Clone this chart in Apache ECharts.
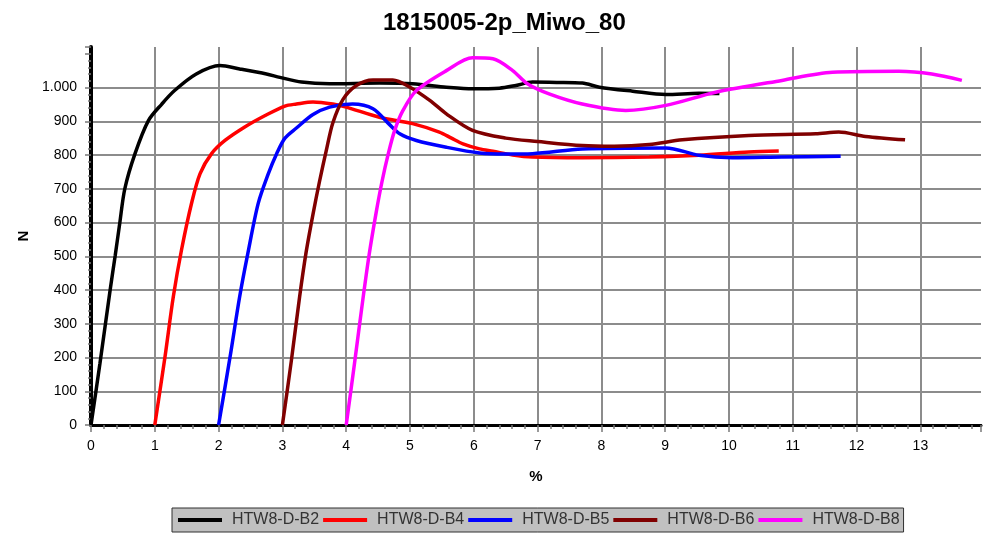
<!DOCTYPE html>
<html><head><meta charset="utf-8">
<script src="https://cdn.jsdelivr.net/npm/echarts@6/dist/echarts.min.js"></script>
<style>html,body{margin:0;padding:0;background:#fff}#c{width:984px;height:533px}</style>
</head><body><div id="c"></div>
<script>
const chartTitle = '1815005-2p_Miwo_80';
const seriesNames = ['HTW8-D-B2', 'HTW8-D-B4', 'HTW8-D-B5', 'HTW8-D-B6', 'HTW8-D-B8'];
const seriesColors = ['#000000', '#ff0000', '#0000ff', '#800000', '#ff00ff'];

const b2X = [0, 0.14, 0.30, 0.38, 0.45, 0.53, 0.69, 0.90, 1.11, 1.31, 1.65, 2.02, 2.33, 2.75, 2.96, 3.3, 3.74, 4.52, 5.04, 5.57, 5.98, 6.4, 6.66, 6.92, 7.3, 7.70, 7.97, 8.49, 9.01, 9.53, 9.85];
const b2Y = [0, 182, 400, 503, 597, 700, 804, 902, 951, 991, 1040, 1065, 1055, 1040, 1030, 1016, 1011, 1013, 1011, 1001, 996, 998, 1006, 1016, 1015, 1013, 1001, 989, 979, 983, 982];

const b4X = [1.0, 1.16, 1.29, 1.42, 1.58, 1.71, 1.89, 2.10, 2.41, 2.73, 3.04, 3.22, 3.48, 3.79, 4.0, 4.52, 5.04, 5.46, 5.65, 5.83, 6.09, 6.30, 6.61, 6.92, 7.70, 8.75, 9.53, 10.31, 10.78];
const b4Y = [0, 202, 380, 520, 660, 745, 804, 843, 883, 917, 945, 951, 957, 951, 942, 912, 893, 868, 850, 833, 818, 811, 800, 794, 792, 794, 799, 809, 812];

const b5X = [2.0, 2.18, 2.33, 2.46, 2.62, 2.78, 2.91, 3.04, 3.22, 3.48, 3.74, 4.1, 4.42, 4.68, 4.84, 5.10, 5.57, 6.09, 6.50, 6.92, 7.70, 9.01, 9.53, 10.05, 10.83, 11.75];
const b5Y = [0, 202, 380, 510, 656, 745, 804, 850, 880, 920, 942, 951, 937, 890, 863, 843, 823, 806, 803, 804, 818, 821, 799, 792, 794, 796];

const b6X = [3.0, 3.14, 3.27, 3.37, 3.48, 3.58, 3.69, 3.79, 3.95, 4.16, 4.42, 4.73, 5.0, 5.31, 5.57, 5.98, 6.50, 7.0, 7.70, 8.2, 8.75, 9.27, 10.31, 11.36, 11.72, 12.14, 12.76];
const b6Y = [0, 190, 380, 510, 625, 720, 815, 895, 965, 1006, 1022, 1022, 1001, 962, 922, 873, 850, 840, 828, 826, 831, 845, 858, 863, 868, 855, 845];

const b8X = [4.0, 4.13, 4.26, 4.36, 4.47, 4.56, 4.66, 4.76, 4.89, 5.10, 5.57, 5.98, 6.30, 6.61, 6.84, 7.18, 7.70, 8.38, 9.01, 9.79, 10.83, 11.62, 12.66, 13.18, 13.65];
const b8Y = [0, 182, 370, 505, 630, 720, 804, 873, 932, 991, 1050, 1088, 1085, 1050, 1011, 981, 951, 932, 947, 986, 1021, 1045, 1048, 1040, 1021];

const xTickLabels = ['0','1','2','3','4','5','6','7','8','9','10','11','12','13'];
const yTickLabels = ['0','100','200','300','400','500','600','700','800','900','1.000'];

const allX = [b2X, b4X, b5X, b6X, b8X];
const allY = [b2Y, b4Y, b5Y, b6Y, b8Y];

const FONT = '"Liberation Sans", Arial, sans-serif';
const GRIDC = '#8c8c8c';

const xSplitColors = [];
for (let i = 0; i < 14; i++) xSplitColors.push(GRIDC);
xSplitColors.push('rgba(0,0,0,0)');
const ySplitColors = [];
for (let i = 0; i < 11; i++) ySplitColors.push(GRIDC);
ySplitColors.push('rgba(0,0,0,0)', 'rgba(0,0,0,0)');

const chart = echarts.init(document.getElementById('c'), null, {renderer: 'canvas'});
chart.setOption({
  animation: false,
  backgroundColor: '#ffffff',
  title: {
    text: chartTitle, left: 378, top: 6,
    textStyle: {fontFamily: FONT, fontSize: 24, fontWeight: 'bold', color: '#000'}
  },
  legend: {
    data: seriesNames, left: 172, top: 508,
    icon: 'rect', itemWidth: 44, itemHeight: 4, itemGap: 4,
    backgroundColor: '#c0c0c0', borderColor: '#303030', borderWidth: 1,
    padding: [4, 4, 4, 6],
    textStyle: {fontFamily: FONT, fontSize: 16, color: '#333', padding: [0, 0, 0, 5]}
  },
  grid: {left: 91, right: 2, top: 47, bottom: 108, containLabel: false},
  xAxis: [{
    type: 'value', min: 0, max: 13.95, interval: 1,
    name: '%', nameLocation: 'middle', nameGap: 44,
    nameTextStyle: {fontFamily: FONT, fontSize: 15, fontWeight: 'bold', color: '#000'},
    axisLine: {onZero: false, lineStyle: {color: '#000', width: 3}},
    axisTick: {show: true, inside: false, length: 7, lineStyle: {color: '#7a7a7a', width: 1.5}},
    minorTick: {show: true, splitNumber: 5, length: 4, lineStyle: {color: '#7a7a7a', width: 1.5}},
    axisLabel: {
      margin: 14, fontFamily: FONT, fontSize: 14, color: '#000',
      formatter: v => (Number.isInteger(v) && v >= 0 && v <= 13) ? xTickLabels[v] : ''
    },
    splitLine: {show: true, lineStyle: {color: xSplitColors, width: 2}}
  }, {
    type: 'value', min: 0, max: 13.95, position: 'top',
    axisLine: {show: true, lineStyle: {color: '#000', width: 2}},
    axisTick: {show: false}, axisLabel: {show: false}, splitLine: {show: false}
  }],
  yAxis: {
    type: 'value', min: 0, max: 1120, interval: 100,
    name: 'N', nameLocation: 'middle', nameGap: 60, nameRotate: 90,
    nameTextStyle: {fontFamily: FONT, fontSize: 15, fontWeight: 'bold', color: '#000'},
    axisLine: {show: true, onZero: false, lineStyle: {color: '#000', width: 4}},
    axisTick: {show: true, inside: false, length: 6, lineStyle: {color: '#7a7a7a', width: 1.5}},
    minorTick: {show: true, splitNumber: 5, length: 3, lineStyle: {color: '#7a7a7a', width: 1.5}},
    axisLabel: {
      margin: 14, fontFamily: FONT, fontSize: 14, color: '#000',
      formatter: v => (v % 100 === 0 && v <= 1000) ? yTickLabels[v / 100] : ''
    },
    splitLine: {show: true, showMaxLine: false, lineStyle: {color: ySplitColors, width: 2}}
  },
  series: seriesNames.map((name, i) => ({
    name: name, type: 'line', xAxisIndex: 0,
    data: allX[i].map((x, j) => [x, allY[i][j]]),
    showSymbol: false, smooth: 0.3,
    lineStyle: {color: seriesColors[i], width: 3.5},
    itemStyle: {color: seriesColors[i]},
    z: 3
  }))
});
</script></body></html>
